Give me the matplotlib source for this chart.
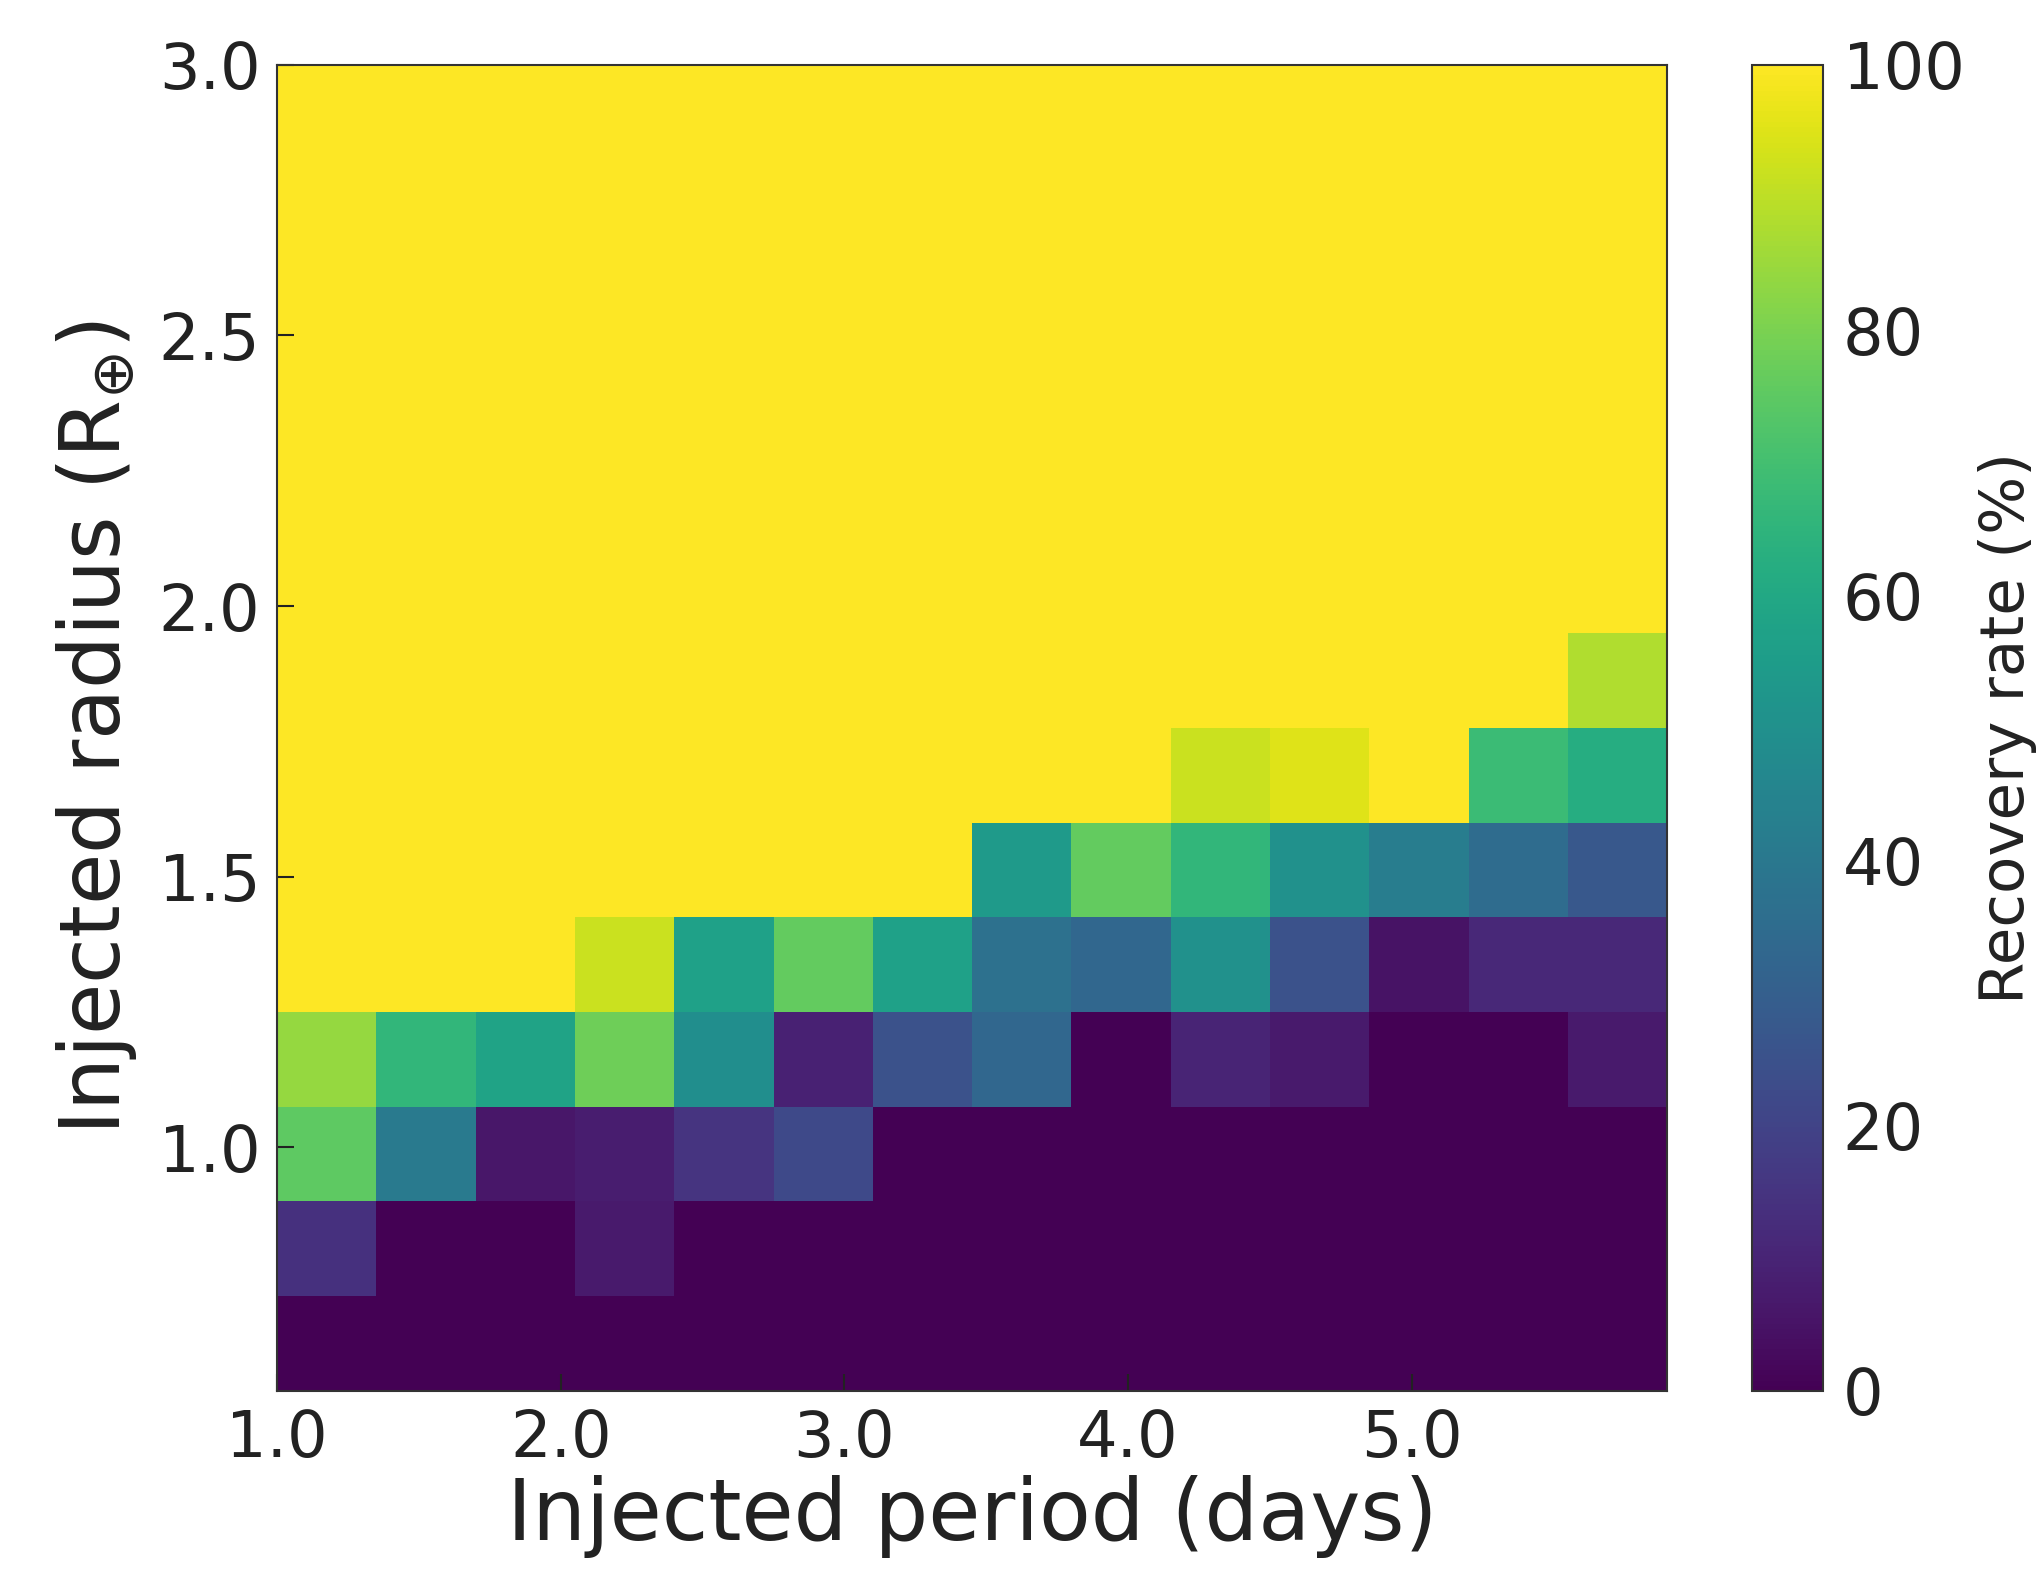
import matplotlib
matplotlib.use("Agg")
import matplotlib.pyplot as plt
import numpy as np

# grid edges (cell boundaries)
period_edges = [1.0, 1.35, 1.7, 2.05, 2.4, 2.75, 3.1, 3.45, 3.8, 4.15, 4.5, 4.85, 5.2, 5.55, 5.9]
radius_edges = [0.55, 0.725, 0.9, 1.075, 1.25, 1.425, 1.6, 1.775, 1.95, 2.125,
                2.3, 2.475, 2.65, 2.825, 3.0]

# recovery rate (%), one list per radius row, bottom row first
row_0 = [0, 0, 0, 0, 0, 0, 0, 0, 0, 0, 0, 0, 0, 0]
row_1 = [14, 0, 0, 7, 0, 0, 0, 0, 0, 0, 0, 0, 0, 0]
row_2 = [75, 41, 6, 8, 15, 22, 0, 0, 0, 0, 0, 0, 0, 0]
row_3 = [84, 66, 58, 78, 49, 9, 25, 33, 0, 10, 7, 0, 0, 7]
row_4 = [100, 100, 100, 92, 57, 76, 57, 37, 33, 50, 25, 5, 11, 11]
row_5 = [100, 100, 100, 100, 100, 100, 100, 54, 76, 66, 50, 42, 35, 27]
row_6 = [100, 100, 100, 100, 100, 100, 100, 100, 100, 92, 95, 100, 68, 62]
row_7 = [100, 100, 100, 100, 100, 100, 100, 100, 100, 100, 100, 100, 100, 88]
row_top = [100] * 14  # rows 8..13 fully recovered

rows = [row_0, row_1, row_2, row_3, row_4, row_5, row_6, row_7] + [row_top] * 6
rate = np.array(rows, dtype=float)

x_ticks = [1.0, 2.0, 3.0, 4.0, 5.0]
y_ticks = [1.0, 1.5, 2.0, 2.5, 3.0]
cb_ticks = [0, 20, 40, 60, 80, 100]

fig = plt.figure(figsize=(20.42, 15.94), dpi=100)
ax = fig.add_axes([0.1357, 0.1274, 0.6807, 0.8319])
cax = fig.add_axes([0.858, 0.1274, 0.0348, 0.8319])

mesh = ax.pcolormesh(period_edges, radius_edges, rate, cmap="viridis",
                     vmin=0, vmax=100, shading="flat")
ax.set_xlim(period_edges[0], period_edges[-1])
ax.set_ylim(radius_edges[0], radius_edges[-1])
ax.set_xticks(x_ticks)
ax.set_xticklabels([f"{v:.1f}" for v in x_ticks])
ax.set_yticks(y_ticks)
ax.set_yticklabels([f"{v:.1f}" for v in y_ticks])
ax.tick_params(direction="in", length=12, width=1.5, labelsize=46, pad=12,
               colors="#222222")
ax.set_xlabel("Injected period (days)", fontsize=61, color="#222222", labelpad=4)
ax.set_ylabel(r"Injected radius (R$_{\oplus}$)", fontsize=60, color="#222222",
              labelpad=14)
for sp in ax.spines.values():
    sp.set_color("#333333")
    sp.set_linewidth(1.5)

cb = fig.colorbar(mesh, cax=cax, ticks=cb_ticks)
cb.ax.tick_params(direction="in", length=0, labelsize=46, pad=14, colors="#222222")
cb.set_label("Recovery rate (%)", fontsize=44, color="#222222", labelpad=10)
cb.outline.set_edgecolor("#333333")
cb.outline.set_linewidth(1.5)

fig.savefig("out.png", dpi=100)
